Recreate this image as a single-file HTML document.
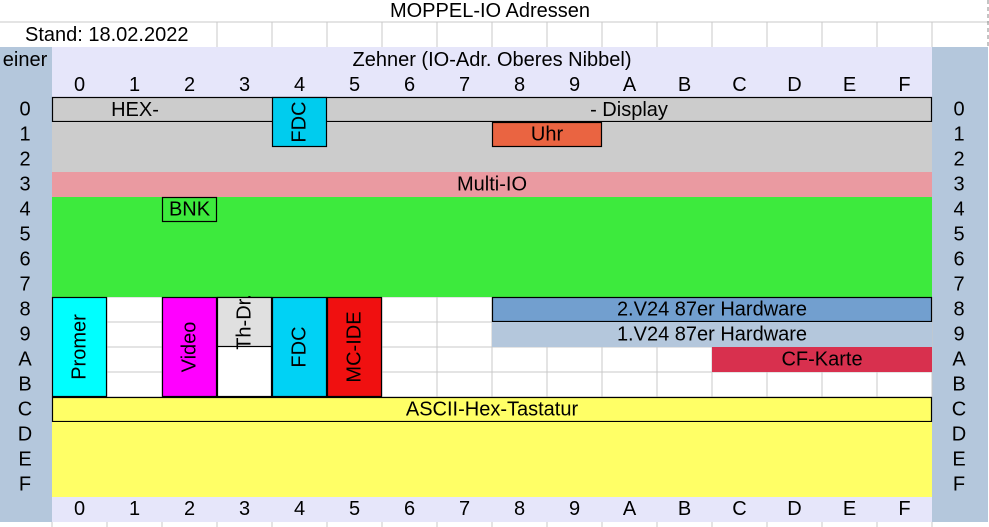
<!DOCTYPE html>
<html><head><meta charset="utf-8">
<style>
html,body{margin:0;padding:0;background:#fff;}
svg{display:block;}
text{font-family:"Liberation Sans",Arial,sans-serif;font-size:20px;fill:#000;}
</style></head>
<body>
<svg id="sheet" width="989" height="527" viewBox="0 0 989 527" xmlns="http://www.w3.org/2000/svg"></svg>
<script>
// Data arrays
const colLabels = ["0","1","2","3","4","5","6","7","8","9","A","B","C","D","E","F"];
const rowLabels = ["0","1","2","3","4","5","6","7","8","9","A","B","C","D","E","F"];
// blocks: [name, col0, col1(exclusive), row0, row1(exclusive)]
const blockNames  = ["display-band","display-body","fdc-top","uhr","multi-io","bank-green","bnk","promer","video","th-dr-box","th-dr","fdc-low","mc-ide","v24-2","v24-1","cf-karte","ascii-row","ascii-body"];
const blockCols   = [[0,16],[0,16],[4,5],[8,10],[0,16],[0,16],[2,3],[0,1],[2,3],[3,4],[3,4],[4,5],[5,6],[8,16],[8,16],[12,16],[0,16],[0,16]];
const blockRows   = [[0,1],[1,3],[0,2],[1,2],[3,4],[4,8],[4,5],[8,12],[8,12],[8,12],[8,10],[8,12],[8,12],[8,9],[9,10],[10,11],[12,13],[13,16]];
const blockColors = ["#cccccc","#cccccc","#00ccee","#ea6441","#ea9aa1","#3dea3d","none","#00ffff","#ff00ff","#ffffff","#e0e0e0","#00d2f5","#f01010","#729fcf","#b4c7dc","#d8304e","#ffff66","#ffff66"];
const blockBorder = [true,false,true,true,false,false,true,true,true,true,true,true,true,true,false,false,true,false];
const blockLabels = ["","","FDC","Uhr","Multi-IO","","BNK","Promer","Video","","Th-Dr.","FDC","MC-IDE","2.V24 87er Hardware","1.V24 87er Hardware","CF-Karte","ASCII-Hex-Tastatur",""];
const blockVertical = [false,false,true,false,false,false,false,true,true,false,true,true,true,false,false,false,false,false];

const svg = document.getElementById('sheet');
const NS = "http://www.w3.org/2000/svg";
const X0 = 52, CW = 55, Y0 = 97, RH = 25;
const xs = c => X0 + c * CW;
const ys = r => Y0 + r * RH;
function mk(tag, attrs){ const e=document.createElementNS(NS,tag); for(const k in attrs) e.setAttribute(k,attrs[k]); svg.appendChild(e); return e; }
function txt(s,x,y,anchor){ const t=mk('text',{x:x,y:y,'text-anchor':anchor||'middle','dominant-baseline':'central'}); t.textContent=s; return t; }

for(let c=3;c<=16;c++){
  const l=mk('line',{x1:xs(c),y1:22,x2:xs(c),y2:47,stroke:'#c8c8c8','stroke-width':1});
  
  
}
for(let c=0;c<=16;c++){
  const l=mk('line',{x1:xs(c),y1:522,x2:xs(c),y2:527,stroke:'#c8c8c8','stroke-width':1});
  
  
}
const hl=mk('line',{x1:0,y1:22,x2:989,y2:22,stroke:'#c8c8c8','stroke-width':1});


const rl=mk('line',{x1:988,y1:0,x2:988,y2:47,stroke:'#888','stroke-width':1,'stroke-dasharray':'4,3'});



const title=txt("MOPPEL-IO Adressen",490,11);


const stand=txt("Stand: 18.02.2022",25,35,'start');



const lc=mk('rect',{x:0,y:47,width:52,height:475,fill:'#b4c7dc'});


const rc=mk('rect',{x:932,y:47,width:56,height:475,fill:'#b4c7dc'});


const hd=mk('rect',{x:52,y:47,width:880,height:50,fill:'#e6e6fa'});


const ft=mk('rect',{x:52,y:497,width:880,height:25,fill:'#e6e6fa'});


const wb=mk('rect',{x:52,y:297,width:880,height:100,fill:'#ffffff'});


for(let c=0;c<=16;c++){
  const l=mk('line',{x1:xs(c),y1:ys(8),x2:xs(c),y2:ys(12),stroke:'#c8c8c8','stroke-width':1});
  
  
}
for(let r=8;r<=12;r++){
  const l=mk('line',{x1:xs(0),y1:ys(r),x2:xs(16),y2:ys(r),stroke:'#c8c8c8','stroke-width':1});
  
  
}

const zt=txt("Zehner (IO-Adr. Oberes Nibbel)",492,60);


const et=txt("einer",25,60);



colLabels.forEach((s,i)=>{
  const t=txt(s,xs(i)+CW/2,85);
  
  
  const b=txt(s,xs(i)+CW/2,509);
  
  
});
rowLabels.forEach((s,i)=>{
  const t=txt(s,25,ys(i)+RH/2);
  
  
  const b=txt(s,959,ys(i)+RH/2);
  
  
});

blockNames.forEach((n,i)=>{
  const x=xs(blockCols[i][0]), w=xs(blockCols[i][1])-x;
  const y=ys(blockRows[i][0]), h=ys(blockRows[i][1])-y;
  const r=mk('rect',{x:x+0.5,y:y+0.5,width:w-1,height:h-1,fill:blockColors[i],stroke:blockBorder[i]?'#000':'none','stroke-width':blockBorder[i]?1.2:0});
  if(blockColors[i]!=='none' && !blockBorder[i]){ r.setAttribute('x',x); r.setAttribute('y',y); r.setAttribute('width',w); r.setAttribute('height',h); }
  
  
});
blockNames.forEach((n,i)=>{
  if(!blockLabels[i]) return;
  const x=xs(blockCols[i][0]), w=xs(blockCols[i][1])-x;
  const y=ys(blockRows[i][0]), h=ys(blockRows[i][1])-y;
  let cx=x+w/2, cy=y+h/2;
  const t=txt(blockLabels[i],cx,cy);
  if(blockVertical[i]) t.setAttribute('transform','rotate(-90 '+cx+' '+cy+')');
  
  
});
const hx=txt("HEX-",135,110);


const dp=txt("- Display",629,110);


</script>
</body></html>
